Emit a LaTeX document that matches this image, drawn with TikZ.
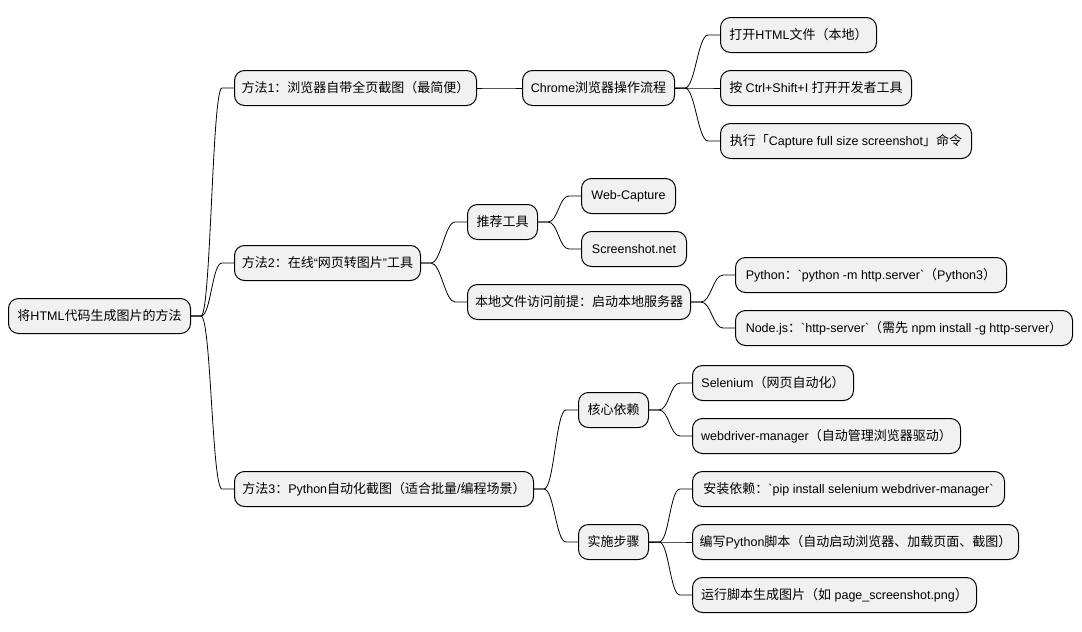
\documentclass[tikz,border=0pt]{standalone}
\usepackage{fontspec}
\setmainfont{Liberation Sans}
\newfontfamily\cjk[Scale=1.04]{Noto Sans CJK SC}
\newcommand\zh[1]{{\cjk #1}}
\newcommand\bq{\textasciigrave}
\definecolor{MapFill}{HTML}{F1F1F1}
\usetikzlibrary{positioning, calc}

\begin{document}
\begin{tikzpicture}[x=1pt, y=-1pt,
  mapnode/.style={draw=black, line width=1pt, rounded corners=10pt, fill=MapFill,
    minimum height=35pt, minimum width=#1, inner xsep=6pt, anchor=west,
    font=\fontsize{12.5}{15}\selectfont},
  mapnode/.default=40pt,
  branch/.style={line width=0.8pt,
    to path={-- ++(10,0) .. controls +(10,0) and +(-10,0) .. ($(\tikztotarget)+(-12,0)$) -- (\tikztotarget)}}
]
\useasboundingbox[fill=white] (0,0) rectangle (1082,632);

% Root
\node[mapnode=182pt] (root) at (8,316) {\zh{将}HTML\zh{代码生成图片的方法}};

% Method 1
\node[mapnode=242pt] (m1) at (234,88) {\zh{方法}1\zh{：浏览器自带全页截图（最简便）}};
\node[mapnode=152pt] (chrome) at (522,88) {Chrome\zh{浏览器操作流程}};
\node[mapnode=156pt] (open) at (720,35) {\zh{打开}HTML\zh{文件（本地）}};
\node[mapnode=191pt] (devtools) at (720,88) {\zh{按} Ctrl+Shift+I \zh{打开开发者工具}};
\node[mapnode=251pt] (capture) at (720,141) {\zh{执行「}Capture full size screenshot\zh{」命令}};

% Method 2
\node[mapnode=186pt] (m2) at (234,263) {\zh{方法}2\zh{：在线}“\zh{网页转图片}”\zh{工具}};
\node[mapnode=70pt] (tools) at (467,222) {\zh{推荐工具}};
\node[mapnode=94pt] (webcap) at (581,196) {Web-Capture};
\node[mapnode=105pt] (shotnet) at (581,249) {Screenshot.net};
\node[mapnode=223pt] (local) at (467,302) {\zh{本地文件访问前提：启动本地服务器}};
\node[mapnode=271pt] (pyserver) at (735,275) {Python\zh{：}\bq python -m http.server\bq\zh{（}Python3\zh{）}};
\node[mapnode=337pt] (nodeserver) at (735,328) {Node.js\zh{：}\bq http-server\bq\zh{（需先} npm install -g http-server\zh{）}};

% Method 3
\node[mapnode=299pt] (m3) at (234,489) {\zh{方法}3\zh{：}Python\zh{自动化截图（适合批量}/\zh{编程场景）}};
\node[mapnode=70pt] (deps) at (578,410) {\zh{核心依赖}};
\node[mapnode=161pt] (selenium) at (692,383) {Selenium\zh{（网页自动化）}};
\node[mapnode=268pt] (wdm) at (692,436) {webdriver-manager\zh{（自动管理浏览器驱动）}};
\node[mapnode=70pt] (steps) at (578,542) {\zh{实施步骤}};
\node[mapnode=312pt] (install) at (692,489) {\zh{安装依赖：}\bq pip install selenium webdriver-manager\bq};
\node[mapnode=326pt] (script) at (692,542) {\zh{编写}Python\zh{脚本（自动启动浏览器、加载页面、截图）}};
\node[mapnode=284pt] (run) at (692,595) {\zh{运行脚本生成图片（如} page\_screenshot.png\zh{）}};

% Branches
\foreach \from/\to in {root/m1, root/m2, root/m3,
    m1/chrome, chrome/open, chrome/devtools, chrome/capture,
    m2/tools, tools/webcap, tools/shotnet, m2/local, local/pyserver, local/nodeserver,
    m3/deps, deps/selenium, deps/wdm, m3/steps, steps/install, steps/script, steps/run}
  \draw[branch] (\from.east) to (\to.west);

\end{tikzpicture}
\end{document}
